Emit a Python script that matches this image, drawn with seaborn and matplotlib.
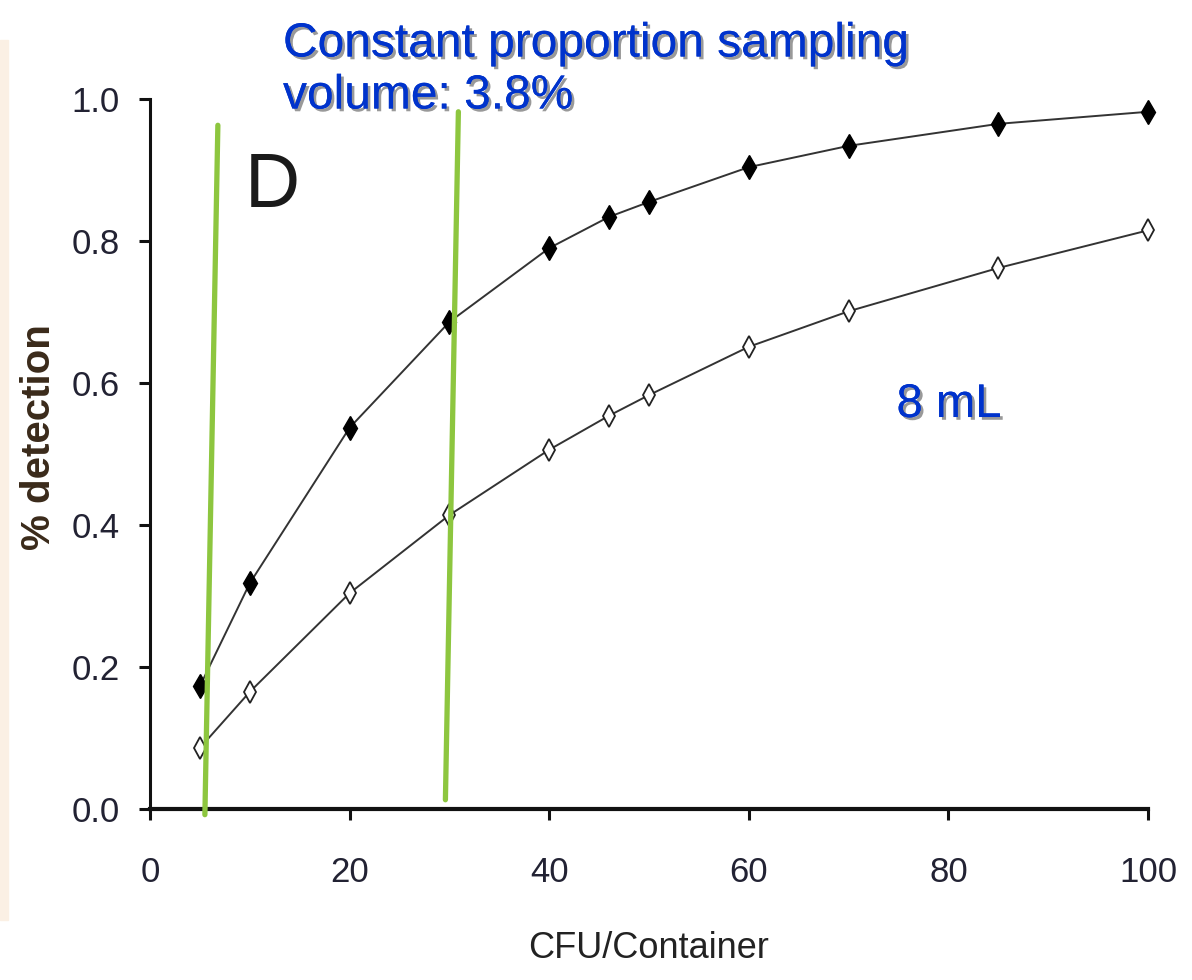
import numpy as np
import pandas as pd
import matplotlib.pyplot as plt
import matplotlib.patheffects as pe
import seaborn as sns

# data
cfu = [5, 10, 20, 30, 40, 46, 50, 60, 70, 85, 100]
filled_det = [0.173, 0.318, 0.537, 0.686, 0.790, 0.834, 0.855, 0.904, 0.934, 0.965, 0.982]
open_det = [0.086, 0.165, 0.304, 0.414, 0.506, 0.554, 0.583, 0.651, 0.701, 0.762, 0.815]

# green hand-drawn marker lines (x, y endpoints)
green1_x = [6.8, 5.5]
green1_y = [0.963, -0.008]
green2_x = [30.9, 29.6]
green2_y = [0.982, 0.013]

sns.set_theme(style="ticks")
plt.rcParams['font.family'] = ['Liberation Sans', 'DejaVu Sans']

df = pd.DataFrame({
    'CFU': cfu * 2,
    'det': filled_det + open_det,
    'series': ['filled'] * len(cfu) + ['open'] * len(cfu),
})

fig = plt.figure(figsize=(11.92, 9.8), dpi=100)
ax = fig.add_axes([150 / 1192, 1 - 809 / 980, (1148 - 150) / 1192, (809 - 99) / 980])

sns.lineplot(data=df[df.series == 'filled'], x='CFU', y='det', ax=ax, color='#333333',
             lw=1.4, marker='d', markersize=12, markerfacecolor='black',
             markeredgecolor='black', markeredgewidth=1, clip_on=False)
sns.lineplot(data=df[df.series == 'open'], x='CFU', y='det', ax=ax, color='#333333',
             lw=1.4, marker='d', markersize=11, markerfacecolor='white',
             markeredgecolor='#222222', markeredgewidth=1.3, clip_on=False)

# green lines
ax.plot(green1_x, green1_y, color='#8DC63F', lw=3.8, clip_on=False, zorder=5)
ax.plot(green2_x, green2_y, color='#8DC63F', lw=3.8, clip_on=False, zorder=5)

ax.set_xlim(0, 100)
ax.set_ylim(0, 1.0)
ax.set_xticks([0, 20, 40, 60, 80, 100])
ax.set_yticks([0.0, 0.2, 0.4, 0.6, 0.8, 1.0])
ax.set_yticklabels(['0.0', '0.2', '0.4', '0.6', '0.8', '1.0'])
ax.tick_params(axis='both', labelsize=25, labelcolor='#222233', width=2.2,
               length=8, direction='out', color='#111111')
ax.tick_params(axis='x', pad=26)
ax.tick_params(axis='y', pad=14)
for s in ['top', 'right']:
    ax.spines[s].set_visible(False)
ax.spines['left'].set_linewidth(2.2)
ax.spines['bottom'].set_linewidth(3)
ax.spines['left'].set_color('#111111')
ax.spines['bottom'].set_color('#111111')

ax.set_xlabel('CFU/Container', fontsize=26, color='#222222', labelpad=30)
ax.set_ylabel('% detection', fontsize=29, fontweight='bold', color='#3a2a1a')
ax.yaxis.set_label_coords(-0.092, 0.524)

shadow = [pe.withSimplePatchShadow(offset=(2, -2), shadow_rgbFace='#555555', alpha=0.6), pe.Normal()]
fig.text(283 / 1192, 1 - 70 / 980, 'Constant proportion sampling\nvolume: 3.8%',
         fontsize=34.5, color='#0033CC', ha='left', va='center', linespacing=1.2,
         path_effects=shadow)
ax.text(9.5, 0.875, 'D', fontsize=55, color='#1a1a1a', ha='left', va='center')
ax.text(74.8, 0.569, '8 mL', fontsize=34, color='#0033CC', ha='left', va='center',
        path_effects=shadow)

# faint beige strip at left edge
fig.patches.append(plt.Rectangle((0, 60 / 980), 8 / 1192, 880 / 980, transform=fig.transFigure,
                                 color='#fbf0e4', zorder=0))

fig.savefig('out.png', dpi=100)
